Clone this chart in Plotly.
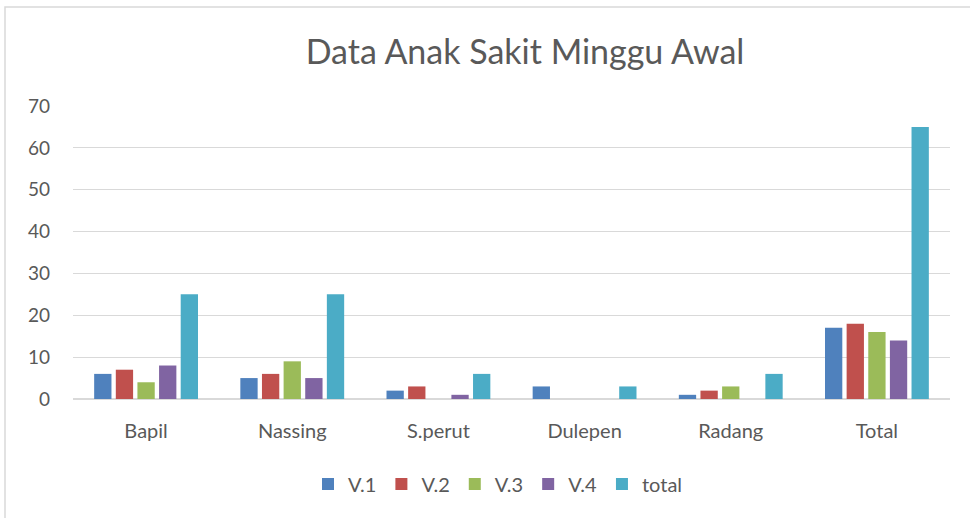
import plotly.graph_objects as go

categories = ["Bapil", "Nassing", "S.perut", "Dulepen", "Radang", "Total"]
v1 = [6, 5, 2, 3, 1, 17]
v2 = [7, 6, 3, 0, 2, 18]
v3 = [4, 9, 0, 0, 3, 16]
v4 = [8, 5, 1, 0, 0, 14]
total = [25, 25, 6, 3, 6, 65]
series_names = ["V.1", "V.2", "V.3", "V.4", "total"]
colors = ["#4F81BD", "#C0504D", "#9BBB59", "#8064A2", "#4BACC6"]

W, H = 970, 518
L, R, T, B = 73, 20, 106, 119
pw, ph = W - L - R, H - T - B

fig = go.Figure()
for name, vals, c in zip(series_names, [v1, v2, v3, v4, total], colors):
    fig.add_trace(go.Bar(name=name, x=categories, y=vals, marker_color=c,
                         marker_line_width=0))

font = "Lato, Open Sans, sans-serif"
fig.update_layout(
    width=W, height=H,
    margin=dict(l=L, r=R, t=T, b=B),
    paper_bgcolor="white", plot_bgcolor="white",
    barmode="group", bargap=0.26, bargroupgap=0.2,
    title=dict(text="Data Anak Sakit Minggu Awal", x=(525 - L) / pw, xref="paper",
               xanchor="center", y=1 - 52 / H, yanchor="middle",
               font=dict(family=font, size=34, color="#595959")),
    font=dict(family=font, size=20, color="#595959"),
    legend=dict(orientation="h", x=(498 - L) / pw, xanchor="center",
                y=-(484 - 399) / ph, yanchor="middle",
                font=dict(size=20, color="#595959"), traceorder="normal",
                itemwidth=30),
    xaxis=dict(showgrid=False, ticks="", tickfont=dict(size=20, color="#595959"),
               showline=False, ticklabelstandoff=18),
    yaxis=dict(range=[0, 70], dtick=10, showgrid=True, gridcolor="#D9D9D9",
               gridwidth=1, zeroline=True, zerolinecolor="#D9D9D9", zerolinewidth=1.5,
               tickfont=dict(size=19, color="#595959"), ticks="", ticklabelstandoff=22),
    shapes=[dict(type="rect", xref="paper", yref="paper",
                 x0=(5 - L) / pw, x1=(W + 5 - L) / pw,
                 y0=(399 - (H + 5)) / ph, y1=(399 - 7) / ph,
                 line=dict(color="#D9D9D9", width=1.5), fillcolor="rgba(0,0,0,0)",
                 layer="below")],
)
fig.write_html("out.html", config={"displayModeBar": False},
               post_script="document.body.style.margin='0';")
